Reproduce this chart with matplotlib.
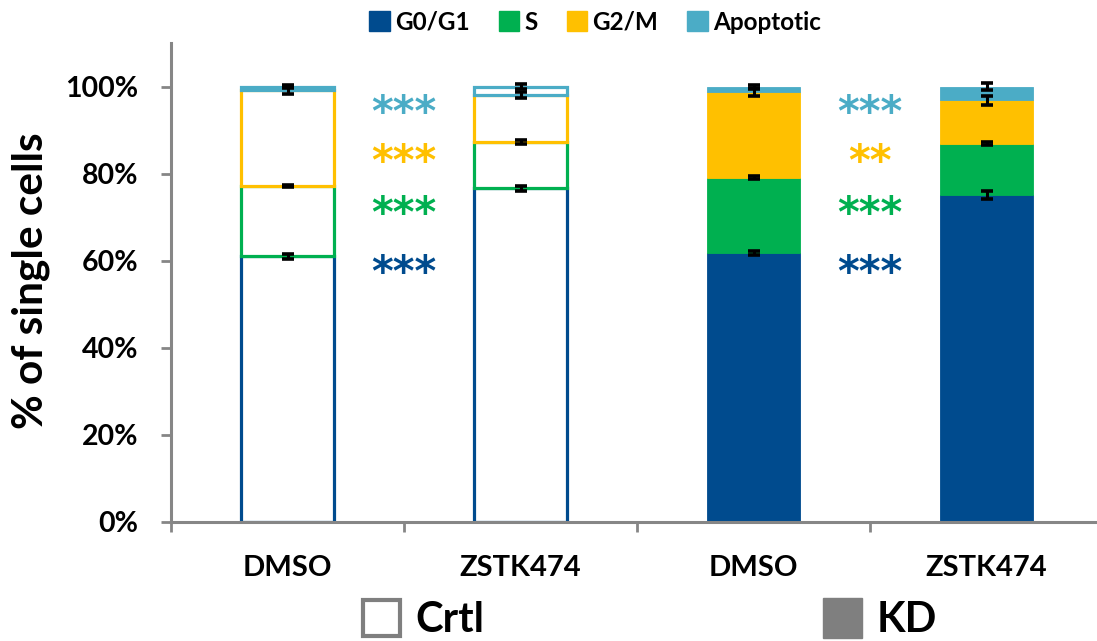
import matplotlib
matplotlib.use('Agg')
import matplotlib.pyplot as plt
from matplotlib.patches import Patch, Rectangle
import numpy as np

categories = ['DMSO', 'ZSTK474', 'DMSO', 'ZSTK474']
conditions = ['Crtl', 'Crtl', 'KD', 'KD']
phases = ['G0/G1', 'S', 'G2/M', 'Apoptotic']
g0g1 = [61.0, 76.6, 61.8, 75.1]
s_phase = [16.2, 10.7, 17.3, 11.8]
g2m = [21.9, 10.7, 19.6, 9.9]
apoptotic = [0.9, 2.0, 1.3, 3.2]
g0g1_err = [0.6, 0.6, 0.5, 1.0]
s_err = [0.3, 0.5, 0.3, 0.3]
g2m_err = [0.8, 0.7, 0.8, 1.0]
apoptotic_err = [0.3, 0.5, 0.3, 0.8]
phase_colors = ['#004B8E', '#00B050', '#FFC000', '#4BACC6']
# significance stars per phase (G0/G1, S, G2/M, Apoptotic), placed between DMSO and ZSTK474
stars_crtl = ['***', '***', '***', '***']
stars_kd = ['***', '***', '**', '***']
star_y = [59.4, 73.1, 84.9, 96.2]

plt.rcParams['font.family'] = ['Lato', 'DejaVu Sans']
plt.rcParams['font.weight'] = 'bold'

W, H = 1097, 641
fig = plt.figure(figsize=(W / 100, H / 100), dpi=100)
ax = fig.add_axes([171 / W, 1 - 522 / H, 932 / W, 479 / H])

x = np.arange(len(categories))
segments = [g0g1, s_phase, g2m, apoptotic]
errors = [g0g1_err, s_err, g2m_err, apoptotic_err]
bottom = np.zeros(len(categories))
tops = []
for seg, col in zip(segments, phase_colors):
    seg = np.array(seg)
    for i in range(len(categories)):
        if conditions[i] == 'Crtl':
            ax.bar(x[i], seg[i], bottom=bottom[i], width=0.4, facecolor='white',
                   edgecolor=col, linewidth=2.3, zorder=2)
        else:
            ax.bar(x[i], seg[i], bottom=bottom[i], width=0.4, facecolor=col,
                   edgecolor=col, linewidth=0.6, zorder=2)
    bottom = bottom + seg
    tops.append(bottom.copy())

for top, err in zip(tops, errors):
    ax.errorbar(x, top, yerr=err, fmt='none', ecolor='black', elinewidth=2.2,
                capsize=4.5, capthick=2.6, zorder=4)

for xs, labels in ((0.5, stars_crtl), (2.5, stars_kd)):
    for lab, yy, col in zip(labels, star_y, phase_colors):
        ax.annotate(lab, (xs, yy), xytext=(0, -8), textcoords='offset points',
                    color=col, fontsize=30, fontweight='bold', family='DejaVu Sans',
                    ha='center', va='center', zorder=5)

ax.set_xlim(-0.5, 3.5)
ax.set_ylim(0, 110)
for sp in ('top', 'right'):
    ax.spines[sp].set_visible(False)
for sp in ('left', 'bottom'):
    ax.spines[sp].set_color('#868686')
    ax.spines[sp].set_linewidth(2.2)

ax.set_xticks(x)
ax.set_xticklabels(categories, fontsize=21, fontweight='bold')
ax.set_xticks([-0.5, 0.5, 1.5, 2.5, 3.5], minor=True)
ax.tick_params(axis='x', which='major', length=0, pad=24)
ax.tick_params(axis='x', which='minor', length=7.5, width=2, color='#868686')
ax.set_yticks([0, 20, 40, 60, 80, 100])
ax.set_yticklabels([f'{v}%' for v in [0, 20, 40, 60, 80, 100]], fontsize=20.5, fontweight='bold')
ax.tick_params(axis='y', length=7.5, width=2, color='#868686', pad=16)

fig.text(31 / W, 1 - 281 / H, '% of single cells', rotation=90, fontsize=30.5,
         fontweight='bold', ha='center', va='center')

handles = [Patch(facecolor=c, edgecolor=c) for c in phase_colors]
fig.legend(handles, phases, loc='center', bbox_to_anchor=(595 / W, 1 - 22 / H), ncol=4,
           frameon=False, prop={'weight': 'bold', 'size': 17.5}, handlelength=0.85,
           handleheight=0.85, handletextpad=0.2, columnspacing=1.2)

fig.add_artist(Rectangle((363 / W, 1 - 636 / H), 37 / W, 36 / H, transform=fig.transFigure,
                         facecolor='white', edgecolor='#7F7F7F', linewidth=3))
fig.text(415 / W, 1 - 632 / H, 'Crtl', fontsize=30, fontweight='bold', ha='left', va='baseline')
fig.add_artist(Rectangle((823 / W, 1 - 638 / H), 39 / W, 40 / H, transform=fig.transFigure,
                         facecolor='#7F7F7F', edgecolor='#7F7F7F', linewidth=1))
fig.text(877 / W, 1 - 632 / H, 'KD', fontsize=30, fontweight='bold', ha='left', va='baseline')

fig.savefig('out.png', dpi=100)
